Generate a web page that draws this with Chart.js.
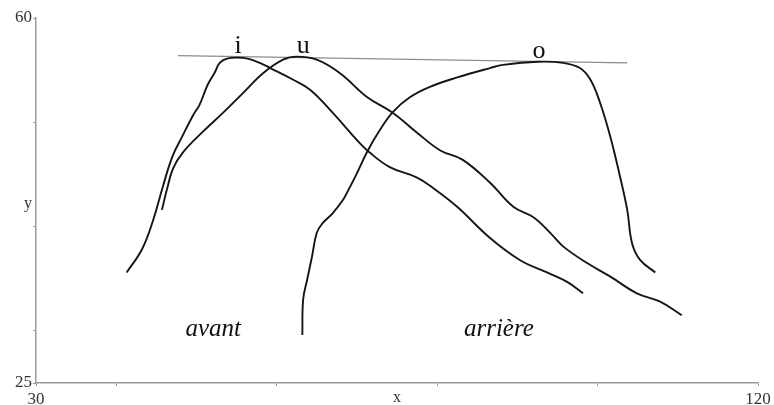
<!DOCTYPE html>
<html>
<head>
<meta charset="utf-8">
<script src="https://cdn.jsdelivr.net/npm/chart.js@4.4.0/dist/chart.umd.min.js"></script>
<style>
  html, body { margin: 0; padding: 0; background: #fff; }
  canvas { display: block; }
</style>
</head>
<body>
<canvas id="vowelChart" width="774" height="405"></canvas>
<script>
// --- Data ---
const iX = [41.3, 43.2, 44.6, 45.8, 47.0, 48.2, 49.6, 50.4, 51.4, 52.3, 52.9, 53.8, 55.1, 56.4, 57.9, 59.2, 62.0, 64.2, 67.0, 70.0, 71.6, 74.1, 77.5, 79.5, 82.5, 86.6, 90.3, 93.7, 96.2, 98.2];
const iY = [35.6, 37.8, 40.6, 43.8, 46.7, 48.6, 50.7, 51.7, 53.6, 54.8, 55.7, 56.1, 56.2, 56.1, 55.7, 55.2, 54.1, 53.1, 50.9, 48.3, 47.1, 45.7, 44.7, 43.7, 41.9, 38.9, 36.8, 35.6, 34.7, 33.6];

const uX = [45.7, 46.3, 47.1, 48.3, 50.8, 53.3, 55.8, 58.3, 60.8, 62.5, 65.0, 67.9, 71.3, 74.5, 77.5, 80.4, 83.2, 86.6, 89.5, 92.0, 94.1, 95.7, 98.7, 101.6, 104.9, 107.8, 110.5];
const uY = [41.6, 43.5, 45.6, 47.1, 49.1, 50.9, 52.8, 54.7, 56.0, 56.3, 56.0, 54.7, 52.4, 50.9, 49.0, 47.3, 46.4, 44.2, 41.9, 40.9, 39.4, 38.1, 36.5, 35.2, 33.6, 32.8, 31.5];

const oX = [63.2, 63.3, 63.8, 64.4, 65.0, 65.7, 67.0, 68.3, 68.8, 70.0, 71.3, 72.9, 74.5, 76.6, 79.1, 82.5, 86.6, 88.2, 92.5, 95.7, 97.8, 99.1, 100.3, 101.6, 102.8, 103.7, 104.3, 105.3, 107.2];
const oY = [29.6, 33.0, 34.9, 37.1, 39.4, 40.3, 41.3, 42.6, 43.3, 45.1, 47.2, 49.3, 51.0, 52.4, 53.4, 54.3, 55.2, 55.5, 55.8, 55.7, 55.2, 54.1, 51.9, 48.6, 44.8, 41.6, 38.4, 36.8, 35.6];

// thin reference line over the three peaks
const peakLineX = [47.7, 103.7];
const peakLineY = [56.4, 55.7];

const xTicks = [30, 40, 60, 80, 100, 120];
const yTicks = [25, 30, 40, 50, 60];

// text placed in data coordinates
const vowelNotes = [
    { text: 'i', x: 55.2, y: 57.3 },
    { text: 'u', x: 63.3, y: 57.3 },
    { text: 'o', x: 92.7, y: 56.8 }
];
const zoneNotes = [
    { text: 'avant', x: 52.1, y: 30.1 },
    { text: 'arrière', x: 87.7, y: 30.1 }
];

const toPoints = (xs, ys) => xs.map((x, k) => ({ x: x, y: ys[k] }));

function curve(xs, ys) {
    return {
        data: toPoints(xs, ys),
        borderColor: '#151515',
        borderWidth: 1.9,
        pointRadius: 0,
        tension: 0.4,
        showLine: true
    };
}

// --- Text overlay plugin ---
const textPlugin = {
    id: 'textPlugin',
    afterDraw(chart) {
        const ctx = chart.ctx;
        const xs = chart.scales.x;
        const ys = chart.scales.y;
        ctx.save();
        ctx.fillStyle = '#111';
        ctx.textAlign = 'center';
        ctx.textBaseline = 'middle';

        ctx.font = '26px "Liberation Serif", serif';
        vowelNotes.forEach(n => {
            ctx.fillText(n.text, xs.getPixelForValue(n.x), ys.getPixelForValue(n.y));
        });

        ctx.font = 'italic 25px "Liberation Serif", serif';
        zoneNotes.forEach(n => {
            ctx.fillText(n.text, xs.getPixelForValue(n.x), ys.getPixelForValue(n.y));
        });

        // axis titles
        ctx.fillStyle = '#333';
        ctx.font = '16px "Liberation Serif", serif';
        ctx.fillText('x', (xs.left + xs.right) / 2, 398);
        ctx.fillText('y', 28, 204);
        ctx.restore();
    }
};

const axisStyle = (ticks) => ({
    type: 'linear',
    min: ticks[0],
    max: ticks[ticks.length - 1],
    afterBuildTicks: (scale) => { scale.ticks = ticks.map(v => ({ value: v })); },
    grid: { drawOnChartArea: false, drawTicks: true, tickLength: 3, color: '#9a9a9a' },
    border: { color: '#9a9a9a', width: 1.5 },
    ticks: {
        autoSkip: false,
        maxRotation: 0,
        color: '#333',
        font: { family: '"Liberation Serif", serif', size: 17 },
        callback: (v) => (v === ticks[0] || v === ticks[ticks.length - 1]) ? String(v) : ''
    }
});

const xAxis = axisStyle(xTicks);
xAxis.ticks.padding = 3;
xAxis.afterFit = (scale) => { scale.height = 22; };

const yAxis = axisStyle(yTicks);
yAxis.ticks.padding = 1;
yAxis.afterFit = (scale) => { scale.width = 36; };

new Chart(document.getElementById('vowelChart'), {
    type: 'scatter',
    data: {
        datasets: [
            curve(iX, iY),
            curve(uX, uY),
            curve(oX, oY),
            {
                data: toPoints(peakLineX, peakLineY),
                borderColor: '#8c8c8c',
                borderWidth: 1.2,
                pointRadius: 0,
                showLine: true
            }
        ]
    },
    options: {
        responsive: false,
        animation: false,
        devicePixelRatio: 1,
        layout: { padding: { top: 18, right: 16, left: 0, bottom: 0 } },
        plugins: { legend: { display: false }, tooltip: { enabled: false } },
        scales: { x: xAxis, y: yAxis }
    },
    plugins: [textPlugin]
});
</script>
</body>
</html>
